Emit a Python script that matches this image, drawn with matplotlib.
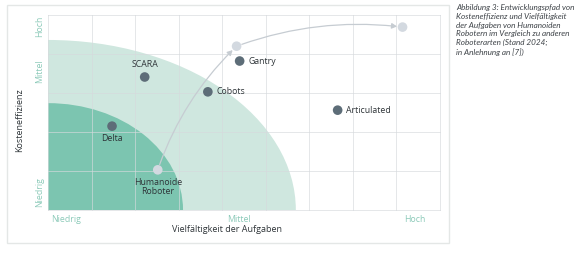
import matplotlib
matplotlib.use("Agg")
import matplotlib.pyplot as plt
from matplotlib.patches import Ellipse, Rectangle, FancyArrowPatch

plt.rcParams['font.family'] = ['Open Sans', 'DejaVu Sans']

# Data (grid units: x 0..9, y 0..5)
robot_names = ["SCARA", "Gantry", "Cobots", "Delta", "Articulated"]
robot_x = [2.22, 4.40, 3.67, 1.47, 6.65]
robot_y = [3.41, 3.82, 3.03, 2.15, 2.56]

path_names = ["Humanoide\nRoboter", "", ""]
path_x = [2.52, 4.33, 8.14]
path_y = [1.03, 4.20, 4.69]

zone_widths = [5.69, 3.10]   # semi-axes along x
zone_heights = [4.36, 2.74]  # semi-axes along y

x_ticklabels = ["Niedrig", "Mittel", "Hoch"]
x_tickpos = [0.42, 4.38, 8.42]
y_ticklabels = ["Niedrig", "Mittel", "Hoch"]
y_tickpos = [0.46, 3.56, 4.7]

caption = ("Abbildung 3: Entwicklungspfad von\nKosteneffizienz und Vielfältigkeit\n"
           "der Aufgaben von Humanoiden\nRobotern im Vergleich zu anderen\n"
           "Roboterarten (Stand 2024;\nin Anlehnung an [7])")

W, H = 585, 254
fig = plt.figure(figsize=(W / 100, H / 100), dpi=100)
fig.patch.set_facecolor("white")

# card
card = Rectangle((7 / W, 1 - 243 / H), (449 - 7) / W, (243 - 5) / H, transform=fig.transFigure,
                 facecolor="white", edgecolor="#e4e7e6", lw=1.0, zorder=-5)
fig.patches.append(card)

ax = fig.add_axes([48 / W, 1 - 210 / H, (440 - 48) / W, (210 - 15) / H])
ax.set_zorder(2)
ax.set_xlim(0, 9)
ax.set_ylim(0, 5)
ax.set_facecolor("none")
for s in ax.spines.values():
    s.set_visible(False)
ax.set_xticks([])
ax.set_yticks([])

# zones
zone_colors = ["#cfe7df", "#7cc5b0"]
for w, h, c in zip(zone_widths, zone_heights, zone_colors):
    e = Ellipse((0, 0), 2 * w, 2 * h, facecolor=c, edgecolor="none", zorder=1)
    ax.add_patch(e)

# grid
grid_kw = dict(color="#d6dadd", lw=0.7, alpha=0.65, zorder=2, clip_on=False)
for gx in range(0, 10):
    ax.plot([gx, gx], [0, 5], **grid_kw)
for gy in range(0, 6):
    ax.plot([0, 9], [gy, gy], **grid_kw)

# path arrows
arr_kw = dict(arrowstyle="-|>,head_length=3,head_width=1.6", color="#c6ccd2", lw=0.9,
              shrinkA=4, shrinkB=4, zorder=3)
ax.add_patch(FancyArrowPatch((path_x[0], path_y[0]), (path_x[1], path_y[1]),
                             connectionstyle="arc3,rad=-0.12", **arr_kw))
ax.add_patch(FancyArrowPatch((path_x[1], path_y[1]), (path_x[2], path_y[2]),
                             connectionstyle="arc3,rad=-0.12", **arr_kw))
ax.scatter(path_x, path_y, s=48, color="#d3d9e0", zorder=4, edgecolors="none")

# robots
ax.scatter(robot_x, robot_y, s=48, color="#5d6d78", zorder=4, edgecolors="none")

lab_kw = dict(fontsize=6.3, color="#2e3438", zorder=5)
for n, x, y in zip(robot_names, robot_x, robot_y):
    if n == "SCARA":
        ax.text(x, y + 0.2, n, ha="center", va="bottom", **lab_kw)
    elif n == "Delta":
        ax.text(x, y - 0.2, n, ha="center", va="top", **lab_kw)
    else:
        ax.text(x + 0.2, y, n, ha="left", va="center", **lab_kw)
ax.text(path_x[0], path_y[0] - 0.2, path_names[0], ha="center", va="top",
        linespacing=1.1, **lab_kw)

# tick labels
tick_color = "#8ccab9"
for t, p in zip(x_ticklabels, x_tickpos):
    ax.text(p, -0.12, t, ha="center", va="top", fontsize=6.3, color=tick_color)
for t, p in zip(y_ticklabels, y_tickpos):
    ax.text(-0.1, p, t, ha="right", va="center", rotation=90, fontsize=6.3, color=tick_color)

# axis labels
fig.text(227 / W, 1 - 230 / H, "Vielfältigkeit der Aufgaben", ha="center", va="center",
         fontsize=6.5, color="#2e3438")
fig.text(20 / W, 1 - 120 / H, "Kosteneffizienz", ha="center", va="center", rotation=90,
         fontsize=6.5, color="#2e3438")

# caption
fig.text(456 / W, 1 - 4 / H, caption, ha="left", va="top", fontsize=5.9, style="italic",
         color="#3d4247", linespacing=1.3, family=["Lato", "DejaVu Sans"])

fig.savefig("out.png", dpi=100, facecolor="white")
